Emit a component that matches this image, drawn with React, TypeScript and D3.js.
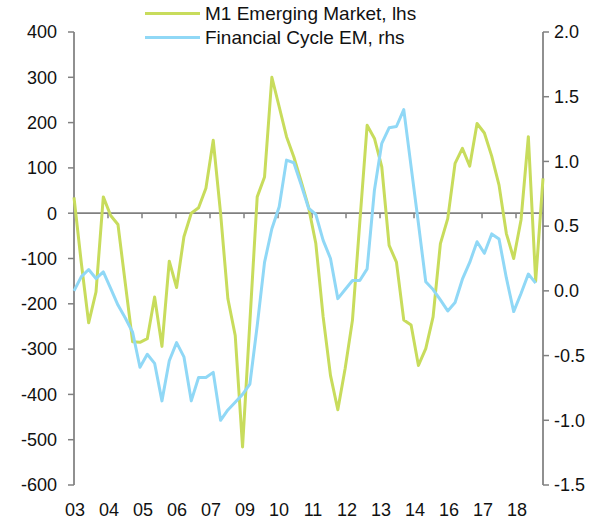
import React from "react";
import * as d3 from "d3";

// Quarterly observations, index 0..64
const m1Emerging: number[] = [
  35, -110, -242, -174, 36, -5, -25, -155, -284, -285, -277, -185, -294, -106, -164, -52,
  0, 12, 55, 161, 0, -189, -270, -516, -240, 36, 80, 300, 235, 169, 124, 70,
  14, -67, -229, -358, -434, -343, -236, -20, 194, 165, 102, -71, -108, -236, -247, -336,
  -299, -229, -67, -12, 110, 143, 104, 198, 177, 126, 62, -45, -100, -15, 169, -150, 77,
];

const financialCycle: (number | null)[] = [
  0.0, 0.11, 0.165, 0.095, 0.146, 0.02, -0.11, -0.21, -0.32, -0.59, -0.49, -0.56, -0.85, -0.54, -0.4, -0.51,
  -0.85, -0.67, -0.67, -0.63, -1.0, -0.92, -0.86, -0.8, -0.72, -0.27, 0.22, 0.48, 0.65, 1.01, 0.99, 0.82,
  0.64, 0.59, 0.39, 0.25, -0.06, 0.01, 0.08, 0.08, 0.17, 0.78, 1.14, 1.26, 1.27, 1.4, 0.96, 0.52,
  0.07, 0.01, -0.07, -0.155, -0.09, 0.09, 0.22, 0.38, 0.29, 0.44, 0.4, 0.1, -0.16, -0.02, 0.13, 0.06, null,
];

const xTickLabels = ["03", "04", "05", "06", "07", "09", "10", "11", "12", "13", "14", "16", "17", "18"];
const leftTicks = [400, 300, 200, 100, 0, -100, -200, -300, -400, -500, -600];
const rightTicks = [2.0, 1.5, 1.0, 0.5, 0.0, -0.5, -1.0, -1.5];
const legendLabels = ["M1 Emerging Market, lhs", "Financial Cycle EM, rhs"];

const W = 605;
const H = 520;
const left = 74;
const right = 543;
const top = 32;
const bottom = 485;
const tickStep = 4.64; // quarters between category labels

const GREEN = "#C8DC5C";
const BLUE = "#90D8F6";
const AXIS = "#808080";
const FONT = "'Liberation Sans', Arial, sans-serif";
const FS = 18;

export default function App() {
  const x = d3.scaleLinear().domain([0, m1Emerging.length - 1]).range([left, right]);
  const yL = d3.scaleLinear().domain([-600, 400]).range([bottom, top]);
  const yR = d3.scaleLinear().domain([-1.5, 2.0]).range([bottom, top]);

  const greenPath = d3
    .line<number>()
    .x((_, i) => x(i))
    .y((d) => yL(d))(m1Emerging) as string;

  const bluePath = d3
    .line<number | null>()
    .defined((d) => d !== null)
    .x((_, i) => x(i))
    .y((d) => yR(d as number))(financialCycle) as string;

  const y0 = yL(0);

  return (
    <svg
      width={W}
      height={H}
      style={{ position: "absolute", left: 0, top: 0, background: "#fff" }}
      fontFamily={FONT}
      fontSize={FS}
    >
      <rect x={0} y={0} width={W} height={H} fill="#fff" />
      {/* left axis */}
      <line x1={left} x2={left} y1={top} y2={bottom} stroke={AXIS} strokeWidth={1.75} />
      {leftTicks.map((t) => (
        <g key={"l" + t}>
          <line x1={left - 6} x2={left} y1={yL(t)} y2={yL(t)} stroke={AXIS} strokeWidth={1.5} />
          <text x={57} y={yL(t)} dy="0.35em" textAnchor="end" fill="#111">
            {t}
          </text>
        </g>
      ))}
      {/* right axis */}
      <line x1={right} x2={right} y1={top} y2={bottom} stroke={AXIS} strokeWidth={1.75} />
      {rightTicks.map((t) => (
        <g key={"r" + t}>
          <line x1={right} x2={right + 6} y1={yR(t)} y2={yR(t)} stroke={AXIS} strokeWidth={1.5} />
          <text x={554} y={yR(t)} dy="0.35em" textAnchor="start" fill="#111">
            {t.toFixed(1)}
          </text>
        </g>
      ))}
      {/* category axis at zero */}
      <line x1={left} x2={right} y1={y0} y2={y0} stroke={AXIS} strokeWidth={1.75} />
      {xTickLabels.map((lab, k) => (
        <g key={"x" + lab}>
          {k > 0 && (
            <line
              x1={x(k * tickStep)}
              x2={x(k * tickStep)}
              y1={y0}
              y2={y0 + 5}
              stroke={AXIS}
              strokeWidth={1.5}
            />
          )}
          <text x={x(k * tickStep) + 1} y={510} dy="0.35em" textAnchor="middle" fill="#111">
            {lab}
          </text>
        </g>
      ))}
      {/* series */}
      <path d={greenPath} fill="none" stroke={GREEN} strokeWidth={3} strokeLinejoin="round" />
      <path d={bluePath} fill="none" stroke={BLUE} strokeWidth={3} strokeLinejoin="round" />
      {/* legend */}
      {legendLabels.map((lab, i) => (
        <g key={lab}>
          <line
            x1={145}
            x2={200}
            y1={13.5 + i * 24}
            y2={13.5 + i * 24}
            stroke={i === 0 ? GREEN : BLUE}
            strokeWidth={3}
          />
          <text x={205} y={13.5 + i * 24} dy="0.35em" fontSize={19} fill="#111">
            {lab}
          </text>
        </g>
      ))}
    </svg>
  );
}
